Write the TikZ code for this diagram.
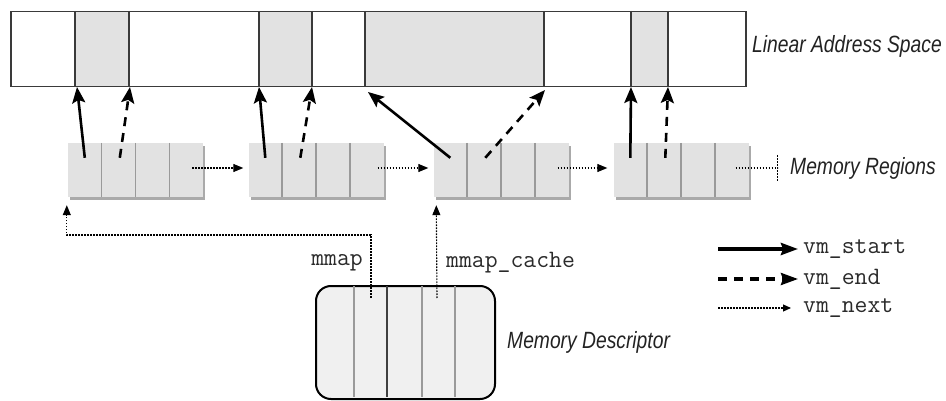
\documentclass[tikz,border=0pt]{standalone}
\usepackage{fontspec}
\setmainfont{Liberation Sans}
\newfontfamily\lblfont[FakeStretch=0.82]{Liberation Sans}
\usetikzlibrary{arrows.meta,calc,shadows}
\definecolor{cellgray}{HTML}{E2E2E2}
\definecolor{shadowgray}{HTML}{AAAAAA}
\definecolor{divgray}{HTML}{9A9A9A}
\definecolor{descgray}{HTML}{F0F0F0}
\definecolor{barline}{HTML}{3A3A3A}
\definecolor{textdark}{HTML}{222222}
\definecolor{codegray}{HTML}{2A2A2A}
\tikzset{
  lbl/.style={inner sep=0pt, anchor=west, text=textdark, font=\lblfont\itshape\fontsize{23.5}{28}\selectfont},
  code/.style={inner sep=0pt, text=codegray, font=\ttfamily\fontsize{25}{30}\selectfont},
  regbox/.style={fill=cellgray, draw=none, minimum width=135pt, minimum height=54pt, inner sep=0pt,
    drop shadow={shadow xshift=2pt, shadow yshift=-3pt, opacity=1, fill=shadowgray}},
  divider/.style={draw=divgray, line width=1.6pt},
  bardiv/.style={draw=barline, line width=1.2pt},
  startarr/.style={line width=2.6pt, -{Stealth[length=16pt,width=13pt,inset=3pt]}},
  endarr/.style={startarr, dash pattern=on 9pt off 7pt},
  nextline/.style={line width=1.1pt, dash pattern=on 1.6pt off 1.4pt},
  nextarr/.style={nextline, -{Triangle[length=10pt,width=8pt]}},
}
\begin{document}
\begin{tikzpicture}[x=1pt,y=-1pt]
\useasboundingbox (0,0) rectangle (946,401);

% ---- Linear address space bar ----
\fill[cellgray] (75,11) rectangle (129,86);
\fill[cellgray] (259,11) rectangle (312,86);
\fill[cellgray] (365,11) rectangle (544,86);
\fill[cellgray] (631,11) rectangle (668,86);
\foreach \x in {75,129,259,312,365,544,631,668}
  \draw[bardiv] (\x,11) -- (\x,86);
\node[draw=barline, line width=1.5pt, minimum width=735pt, minimum height=75pt, inner sep=0pt, anchor=north west] (las) at (10,11) {};
\node[lbl] (laslbl) at (752,46) {Linear Address Space};

% targets on the bar
\coordinate (t1s) at (77,87);
\coordinate (t1e) at (130,87);
\coordinate (t2s) at (259,87);
\coordinate (t2e) at (312,87);
\coordinate (t3s) at (368,92);
\coordinate (t3e) at (545,90);
\coordinate (t4s) at (631,87);
\coordinate (t4e) at (668,87);

% ---- Memory regions ----
\node[regbox] (r1) at (135.5,170) {};
\node[regbox] (r2) at (316,170) {};
\node[regbox] (r3) at (501,170) {};
\node[regbox] (r4) at (681,170) {};
\foreach \r in {r1,r2,r3,r4}{
  \foreach \i in {1,2,3}
    \draw[divider] ($(\r.north west)!\i/4!(\r.north east)$) -- ($(\r.south west)!\i/4!(\r.south east)$);
  \coordinate (\r s) at ($(\r.north west)+(17,15)$);
  \coordinate (\r e) at ($(\r.north west)+(52,15)$);
}
\node[lbl] (mrlbl) at (790,168) {Memory Regions};

% vm_start / vm_end arrows
\draw[startarr] (r1s) -- (t1s);
\draw[endarr]   (r1e) -- (t1e);
\draw[startarr] (r2s) -- (t2s);
\draw[endarr]   (r2e) -- (t2e);
\draw[startarr] (r3s) -- (t3s);
\draw[endarr]   (r3e) -- (t3e);
\draw[startarr] (r4s) -- (t4s);
\draw[endarr]   (r4e) -- (t4e);

% vm_next chain
\draw[nextarr] ($(r1.east)+(-11,-2)$) -- ($(r2.west)+(-5,-2)$);
\draw[nextarr] ($(r2.east)+(-6,-2)$) -- ($(r3.west)+(-5,-2)$);
\draw[nextarr] ($(r3.east)+(-11,-2)$) -- ($(r4.west)+(-6,-2)$);
\coordinate (nil) at ($(r4.east)+(29,-2)$);
\draw[nextline] ($(r4.east)+(-13,-2)$) -- (nil);
\draw[nextline] ($(nil)+(0,-13)$) -- ($(nil)+(0,13)$);

% ---- Memory descriptor ----
\node[draw=black, line width=2pt, rounded corners=15pt, fill=descgray, minimum width=179pt, minimum height=113pt, inner sep=0pt, anchor=north west] (md) at (315,285) {};
\draw[divider] (354,286) -- (354,397);
\draw[draw=black!75, line width=1.6pt] (387,286) -- (387,397);
\draw[divider] (422,286) -- (422,397);
\draw[divider] (455,286) -- (455,397);
\node[lbl] (mdlbl) at (507,342) {Memory Descriptor};

\coordinate (mmsrc) at (371,298);
\coordinate (mmbend) at (371,235);
\coordinate (r1in) at ($(r1.south west)+(-1,8)$);
\coordinate (mcsrc) at (437,298);
\coordinate (r3in) at ($(r3.south west)+(3,8)$);
\draw[nextarr] (mmsrc) -- (mmbend) -| (r1in);
\draw[nextarr] (mcsrc) -- (r3in);
\node[code, anchor=east] (mmaplbl) at (363,263) {mmap};
\node[code, anchor=west] (mclbl) at (446,263) {mmap\_cache};

% ---- Legend ----
\coordinate (l1a) at (718,249); \coordinate (l1b) at (798,249);
\coordinate (l2a) at (718,279); \coordinate (l2b) at (798,279);
\coordinate (l3a) at (718,308); \coordinate (l3b) at (791,308);
\draw[line width=3.5pt, -{Stealth[length=17pt,width=12pt,inset=2pt]}] (l1a) -- (l1b);
\draw[line width=3.2pt, dash pattern=on 9pt off 7pt, -{Stealth[length=17pt,width=12pt,inset=2pt]}] (l2a) -- (l2b);
\draw[nextline, -{Triangle[length=8pt,width=7pt]}] (l3a) -- (l3b);
\node[code, anchor=west] (lg1) at (803,249) {vm\_start};
\node[code, anchor=west] (lg2) at (803,279) {vm\_end};
\node[code, anchor=west] (lg3) at (803,308) {vm\_next};
\end{tikzpicture}
\end{document}
